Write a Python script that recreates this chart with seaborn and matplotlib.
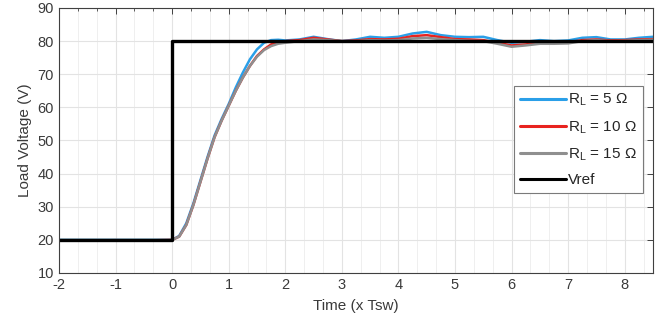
import numpy as np
import pandas as pd
import matplotlib
matplotlib.use("Agg")
import matplotlib.pyplot as plt
import seaborn as sns
from matplotlib.ticker import MultipleLocator

# ---- data ----
time = [-2, -1.5, -1, -0.5, 0,
        0.125, 0.25, 0.375, 0.5, 0.625, 0.75, 0.875, 1, 1.125, 1.25, 1.375, 1.5, 1.625, 1.75, 1.875, 2,
        2.25, 2.5, 2.75, 3, 3.25, 3.5, 3.75, 4, 4.25, 4.5, 4.75, 5, 5.25, 5.5, 5.75, 6, 6.25, 6.5,
        6.75, 7, 7.25, 7.5, 7.75, 8, 8.25, 8.5]

v_rl5 = [20, 20, 20, 20, 20,
         21.2, 25, 31, 38, 45, 51.5, 56.5, 61, 66, 70.5, 74.5, 77.5, 79.5, 80.3, 80.4, 80.2,
         80.5, 81.3, 80.6, 80, 80.5, 81.3, 81, 81.3, 82.3, 82.8, 81.8, 81.3, 81.2, 81.3, 80.3, 79.5, 79.8, 80.3,
         80, 80.2, 81, 81.2, 80.5, 80.5, 81, 81.3]

v_rl10 = [19.8, 19.8, 19.9, 19.8, 20,
          21, 24.5, 30.5, 37.5, 44.5, 51, 56, 60.5, 65, 69, 72.5, 75.5, 77.5, 79, 79.7, 80,
          80.3, 81, 80.5, 80, 80.2, 80.6, 80.5, 80.7, 81.5, 81.8, 81.2, 80.6, 80.5, 80.3, 79.5, 78.7, 79, 79.5,
          79.5, 79.6, 80.3, 80.5, 80.2, 80.3, 80.5, 80.6]

v_rl15 = [20, 20, 20, 20, 20,
          21, 24.5, 30.5, 37.5, 44.5, 51, 56, 60.5, 65, 69, 72.5, 75.3, 77.3, 78.5, 79.2, 79.5,
          80, 80.5, 80.3, 80, 80, 80.3, 80.2, 80.3, 80.8, 81, 80.6, 80.3, 80.1, 80, 79.2, 78.3, 78.7, 79.2,
          79.2, 79.3, 80, 80.3, 80, 80.1, 80.3, 80.4]

vref_t = [-2, 0, 0, 8.5]
vref_v = [20, 20, 80, 80]

labels = [r"R$_\mathregular{L}$ = 5 Ω", r"R$_\mathregular{L}$ = 10 Ω", r"R$_\mathregular{L}$ = 15 Ω", "Vref"]
colors = ["#2a9fe8", "#e8231f", "#8f8f8f", "#000000"]

# ---- plotting ----
sns.set_style("white")
plt.rcParams["font.family"] = ["Liberation Sans", "DejaVu Sans"]
plt.rcParams["mathtext.fontset"] = "custom"
plt.rcParams["mathtext.rm"] = "Liberation Sans"
plt.rcParams["mathtext.it"] = "Liberation Sans"
plt.rcParams["axes.unicode_minus"] = False

fig = plt.figure(figsize=(6.68, 3.26), dpi=100)
ax = fig.add_axes([0.0883, 0.1626, 0.8892, 0.8129])

for vals, lab, col in zip([v_rl5, v_rl10, v_rl15], labels[:3], colors[:3]):
    df = pd.DataFrame({"t": time, "v": vals})
    sns.lineplot(data=df, x="t", y="v", ax=ax, color=col, linewidth=1.8, label=lab)

dref = pd.DataFrame({"t": vref_t, "v": vref_v})
sns.lineplot(data=dref, x="t", y="v", ax=ax, color=colors[3], linewidth=2.4, label=labels[3],
             sort=False, estimator=None)

ax.set_xlim(-2, 8.5)
ax.set_ylim(10, 90)
ax.xaxis.set_major_locator(MultipleLocator(1))
ax.xaxis.set_minor_locator(MultipleLocator(1 / 3))
ax.yaxis.set_major_locator(MultipleLocator(10))

ax.grid(True, which="major", color="#e3e3e3", linewidth=0.8)
ax.grid(True, which="minor", axis="x", color="#efefef", linewidth=0.7)
ax.set_axisbelow(True)

ax.tick_params(which="both", direction="in", top=True, right=True, colors="#404040",
               labelsize=10.5, labelcolor="#3a3a3a")
ax.tick_params(which="major", length=4, width=0.7)
ax.tick_params(which="minor", length=2.5, width=0.6)
for s in ax.spines.values():
    s.set_color("#404040")
    s.set_linewidth(0.8)

ax.set_xlabel("Time (x Tsw)", fontsize=11, color="#3a3a3a", labelpad=5)
ax.set_ylabel("Load Voltage (V)", fontsize=11, color="#3a3a3a", labelpad=4)

leg = ax.legend(loc="upper right", bbox_to_anchor=(0.983, 0.706), fontsize=11,
                frameon=True, fancybox=False, framealpha=1, edgecolor="#7a7a7a",
                handlelength=3.0, handletextpad=0.15, labelspacing=0.7, borderpad=0.4,
                borderaxespad=0)
leg.get_frame().set_linewidth(0.8)
for line in leg.get_lines():
    line.set_linewidth(2.2)

fig.savefig("out.png", dpi=100)
